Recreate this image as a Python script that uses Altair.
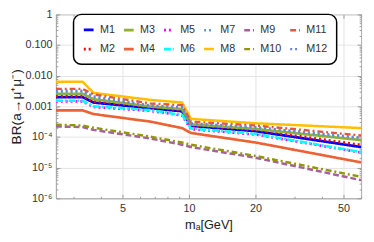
import altair as alt
import pandas as pd

# ---------------- data ----------------
x_vals = [2.5, 3.3, 3.7, 6.7, 9.3, 10.2, 20.0, 60.0]

M1 = [2.0e-3, 2.0e-3, 1.33e-3, 8.7e-4, 6.9e-4, 2.3e-4, 1.55e-4, 4.7e-5]
M2 = [2.14e-3, 2.14e-3, 1.45e-3, 9.5e-4, 7.5e-4, 2.45e-4, 1.7e-4, 5.5e-5]
M3 = [2.57e-3, 2.57e-3, 1.7e-3, 9.8e-4, 8.1e-4, 2.57e-4, 1.82e-4, 7.9e-5]
M4 = [7.4e-4, 7.4e-4, 5.6e-4, 3.16e-4, 1.95e-4, 1.35e-4, 6.6e-5, 1.48e-5]
M5 = [1.45e-3, 1.45e-3, 9.5e-4, 7.1e-4, 5.0e-4, 1.8e-4, 1.2e-4, 3.1e-5]
M6 = [1.51e-3, 1.51e-3, 1.0e-3, 7.5e-4, 5.25e-4, 1.9e-4, 1.26e-4, 3.2e-5]
M7 = [3.0e-3, 3.0e-3, 1.95e-3, 1.03e-3, 8.9e-4, 2.65e-4, 2.0e-4, 9.0e-5]
M8 = [6.35e-3, 6.35e-3, 2.74e-3, 1.62e-3, 1.33e-3, 3.9e-4, 2.8e-4, 1.95e-4]
M9 = [2.2e-4, 2.1e-4, 1.7e-4, 8.9e-5, 5.6e-5, 4.7e-5, 2.1e-5, 3.9e-6]
M10 = [2.5e-4, 2.37e-4, 2.0e-4, 1.02e-4, 6.6e-5, 5.6e-5, 2.4e-5, 5.0e-6]
M11 = [3.7e-3, 3.7e-3, 2.45e-3, 1.23e-3, 1.1e-3, 3.16e-4, 2.37e-4, 1.12e-4]
M12 = [3.24e-3, 3.24e-3, 2.1e-3, 1.07e-3, 9.5e-4, 2.8e-4, 2.1e-4, 9.5e-5]

series = {"M1": M1, "M2": M2, "M3": M3, "M4": M4, "M5": M5, "M6": M6,
          "M7": M7, "M8": M8, "M9": M9, "M10": M10, "M11": M11, "M12": M12}

names = list(series.keys())
colors = {"M1": "#0000FF", "M2": "#FF0000", "M3": "#8FB032", "M4": "#EB6235",
          "M5": "#FF00FF", "M6": "#00FFFF", "M7": "#5D9EC7", "M8": "#FFBF00",
          "M9": "#A5609D", "M10": "#929600", "M11": "#E95536", "M12": "#6685D9"}
dashes = {"M1": [1, 0], "M2": [2, 3], "M3": [1, 0], "M4": [1, 0],
          "M5": [2, 3], "M6": [7, 2, 2, 2], "M7": [2, 3], "M8": [1, 0],
          "M9": [6, 3], "M10": [6, 3, 2, 3], "M11": [6, 3, 2, 3], "M12": [2, 3]}
widths = {"M1": 2.8, "M2": 2.4, "M3": 2, "M4": 2, "M5": 2.4, "M6": 2.6,
          "M7": 2.2, "M8": 2, "M9": 2.2, "M10": 2.2, "M11": 2.2, "M12": 2.2}

x_major = [5, 10, 20, 50]
x_minor = [3, 4, 6, 7, 8, 9, 30, 40, 60]
y_major = [1e-6, 1e-5, 1e-4, 1e-3, 1e-2, 1e-1, 1]
y_minor = [m * 10.0 ** e for e in range(-6, 0) for m in range(2, 10)]

rows = []
for name, vals in series.items():
    for i, (xv, yv) in enumerate(zip(x_vals, vals)):
        rows.append({"series": name, "x": xv, "y": yv, "i": i})
df = pd.DataFrame(rows)

W, H = 312, 188
FONT = "Liberation Sans"
xscale = alt.Scale(type="log", domain=[2.5, 60], nice=False)
yscale = alt.Scale(type="log", domain=[1e-6, 1], nice=False)

ylab = ("datum.value > 0.5 ? '1' : datum.value > 0.05 ? '0.100' : "
        "datum.value > 0.005 ? '0.010' : datum.value > 0.0005 ? '0.001' : "
        "datum.value > 0.00005 ? '10⁻⁴' : datum.value > 0.000005 ? '10⁻⁵' : '10⁻⁶'")

lines = alt.Chart(df).mark_line(clip=True).encode(
    x=alt.X("x:Q", scale=xscale,
            axis=alt.Axis(values=x_major, grid=True, ticks=False, labelPadding=5,
                          format="d", title="mₐ[GeV]", titlePadding=5,
                          titleFontSize=13, titleFontWeight="normal", titleColor="#222")),
    y=alt.Y("y:Q", scale=yscale,
            axis=alt.Axis(values=y_major, grid=True, ticks=False, labelPadding=4,
                          labelExpr=ylab, title="BR(a→μ⁺μ⁻)", titlePadding=2,
                          titleFontSize=14, titleFontWeight="normal", titleColor="#222")),
    color=alt.Color("series:N",
                    scale=alt.Scale(domain=names, range=[colors[k] for k in names]),
                    legend=alt.Legend(title=None, orient="none", legendX=18, legendY=0,
                                      columns=6, columnPadding=3, rowPadding=7,
                                      symbolType="stroke", symbolSize=100,
                                      symbolStrokeWidth=2.4, labelFontSize=11,
                                      labelColor="#333", labelFont=FONT, labelOffset=5,
                                      padding=9, fillColor="white", strokeColor="black",
                                      cornerRadius=8, gridAlign="each")),
    strokeDash=alt.StrokeDash("series:N",
                              scale=alt.Scale(domain=names, range=[dashes[k] for k in names]),
                              legend=alt.Legend(title=None, orient="none", legendX=18, legendY=0,
                                                columns=6)),
    strokeWidth=alt.StrokeWidth("series:N",
                                scale=alt.Scale(domain=names, range=[widths[k] for k in names]),
                                legend=None),
    order="i:Q",
)


def tick_layer(xvals, yvals, xorient, yorient, size):
    return alt.Chart(df).mark_point(opacity=0).encode(
        x=alt.X("x:Q", scale=xscale,
                axis=alt.Axis(orient=xorient, offset=-H, values=xvals, labels=False,
                              domain=False, grid=False, tickSize=size, title=None)),
        y=alt.Y("y:Q", scale=yscale,
                axis=alt.Axis(orient=yorient, offset=-W, values=yvals, labels=False,
                              domain=False, grid=False, tickSize=size, title=None)),
    )


chart = alt.layer(
    lines,
    tick_layer(x_major, y_major, "top", "right", 4),
    tick_layer(x_minor, y_minor, "top", "right", 2),
    tick_layer(x_major, y_major, "bottom", "left", 4),
    tick_layer(x_minor, y_minor, "bottom", "left", 2),
).resolve_axis(x="independent", y="independent").properties(
    width=W, height=H,
    autosize=alt.AutoSizeParams(type="none"),
    padding={"left": 49, "top": 4, "right": 5, "bottom": 34},
).configure_view(stroke="#aaaaaa", strokeWidth=1).configure_axis(
    domainColor="#aaaaaa", tickColor="#999999", gridColor="#e4e4e4",
    labelColor="#333333", labelFont=FONT, labelFontSize=11, titleFont=FONT,
).configure_legend(strokeWidth=1.5)

chart.save("out.html", embed_options={"renderer": "svg", "actions": False})
